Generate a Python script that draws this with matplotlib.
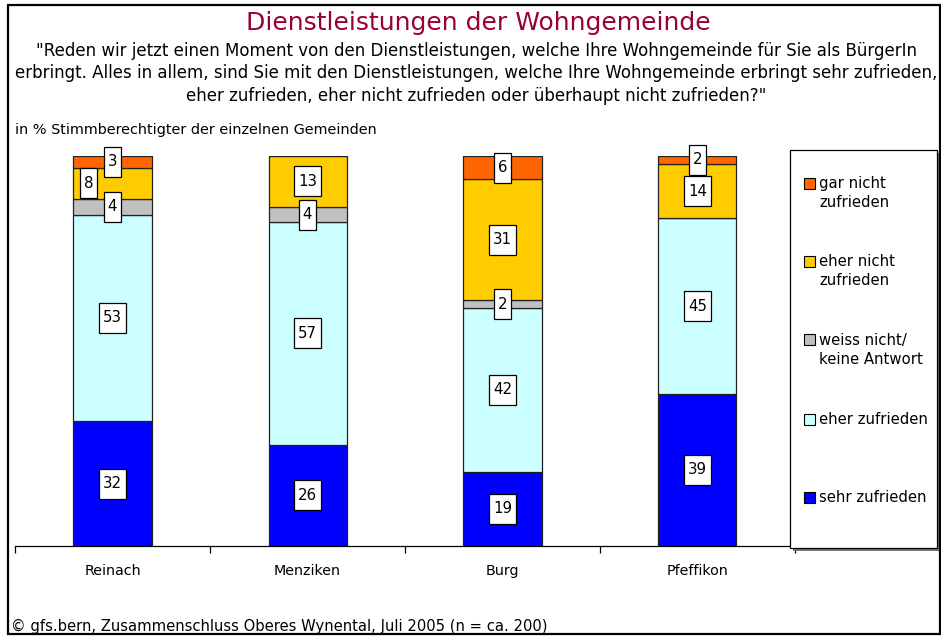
import matplotlib
matplotlib.use("Agg")
from matplotlib import pyplot as plt
from matplotlib.patches import Rectangle
from matplotlib.transforms import ScaledTranslation

plt.rcParams['font.family'] = ['DejaVu Sans']

# data
gemeinden = ['Reinach', 'Menziken', 'Burg', 'Pfeffikon']
sehr_zufrieden = [32, 26, 19, 39]
eher_zufrieden = [53, 57, 42, 45]
weiss_nicht = [4, 4, 2, 0]
eher_nicht = [8, 13, 31, 14]
gar_nicht = [3, 0, 6, 2]

series = [sehr_zufrieden, eher_zufrieden, weiss_nicht, eher_nicht, gar_nicht]
names = ['sehr zufrieden', 'eher zufrieden', 'weiss nicht/\nkeine Antwort',
         'eher nicht\nzufrieden', 'gar nicht\nzufrieden']
colors = ['#0000FF', '#CCFFFF', '#C0C0C0', '#FFCC00', '#FF6600']

W, H = 941, 637
fig = plt.figure(figsize=(W / 100, H / 100), dpi=100)
ax = fig.add_axes([15 / W, 1 - 546 / H, 780 / W, 390 / H])


def box_label(x, y, txt, dx=0.0):
    # white box with black frame, sized in inches
    w = 0.06 + 0.105 * len(txt)
    h = 0.30
    tr = fig.dpi_scale_trans + ScaledTranslation(x, y, ax.transData)
    ax.add_patch(Rectangle((dx - w / 2, -h / 2), w, h, transform=tr,
                           facecolor='white', edgecolor='black', lw=0.9,
                           zorder=5, clip_on=False))
    ax.text(dx, 0, txt, transform=tr, ha='center', va='center',
            fontsize=10.8, zorder=6)


xs = list(range(len(gemeinden)))
bottom = [0] * len(gemeinden)
for vals, col in zip(series, colors):
    ax.bar(xs, vals, width=0.4, bottom=bottom, color=col,
           edgecolor='#222222', lw=0.9, zorder=2)
    for i, v in enumerate(vals):
        if v > 0:
            dx = 0.0
            if gemeinden[i] == 'Reinach' and v == 8:
                dx = -0.24
            box_label(i, bottom[i] + v / 2, str(v), dx)
    bottom = [b + v for b, v in zip(bottom, vals)]

ax.set_xlim(-0.5, 3.5)
ax.set_ylim(0, 100)
for s in ['top', 'right', 'left']:
    ax.spines[s].set_visible(False)
ax.spines['bottom'].set_linewidth(0.9)
ax.set_yticks([])
ax.set_xticks([-0.5, 0.5, 1.5, 2.5, 3.5])
ax.set_xticklabels([])
ax.tick_params(axis='x', length=5, width=0.9, direction='out')
for i, g in enumerate(gemeinden):
    ax.text(i, 0, g, transform=ax.transData + ScaledTranslation(0, -0.25, fig.dpi_scale_trans),
            ha='center', va='center', fontsize=10.3)

# titles
fig.text(478 / W, 1 - 23 / H, 'Dienstleistungen der Wohngemeinde',
         color='#990033', fontsize=18, ha='center', va='center')
sub = ('"Reden wir jetzt einen Moment von den Dienstleistungen, welche Ihre Wohngemeinde für Sie als BürgerIn\n'
       'erbringt. Alles in allem, sind Sie mit den Dienstleistungen, welche Ihre Wohngemeinde erbringt sehr zufrieden,\n'
       'eher zufrieden, eher nicht zufrieden oder überhaupt nicht zufrieden?"')
fig.text(476 / W, 1 - 73.5 / H, sub, fontsize=12.0, ha='center', va='center',
         linespacing=1.33)
fig.text(15 / W, 1 - 130 / H, 'in % Stimmberechtigter der einzelnen Gemeinden',
         fontsize=10.4, ha='left', va='center')
fig.text(11 / W, 1 - 626 / H,
         '© gfs.bern, Zusammenschluss Oberes Wynental, Juli 2005 (n = ca. 200)',
         fontsize=10.65, ha='left', va='center')

# legend box
fig.patches.append(Rectangle((793 / W, 1 - 551 / H), 147 / W, 398 / H,
                             transform=fig.transFigure, facecolor='#777777',
                             edgecolor='none', zorder=1))
fig.patches.append(Rectangle((790 / W, 1 - 548 / H), 147 / W, 398 / H,
                             transform=fig.transFigure, facecolor='white',
                             edgecolor='black', lw=0.9, zorder=2))
leg_y = [497, 419, 350, 271, 193]
for name, col, yy in zip(names, colors, leg_y):
    n_lines = name.count('\n') + 1
    top_line = yy - (n_lines - 1) * 10
    fig.patches.append(Rectangle((804 / W, 1 - (top_line + 5.5) / H), 11 / W, 11 / H,
                                 transform=fig.transFigure, facecolor=col,
                                 edgecolor='black', lw=0.8, zorder=3))
    fig.text(819 / W, 1 - yy / H, name, fontsize=10.7, ha='left', va='center',
             linespacing=1.3, zorder=3)

# outer frame
fig.patches.append(Rectangle((8 / W, 1 - 634 / H), 932 / W, 629 / H,
                             transform=fig.transFigure, facecolor='none',
                             edgecolor='black', lw=1.6, zorder=4))

fig.savefig('out.png', dpi=100)
